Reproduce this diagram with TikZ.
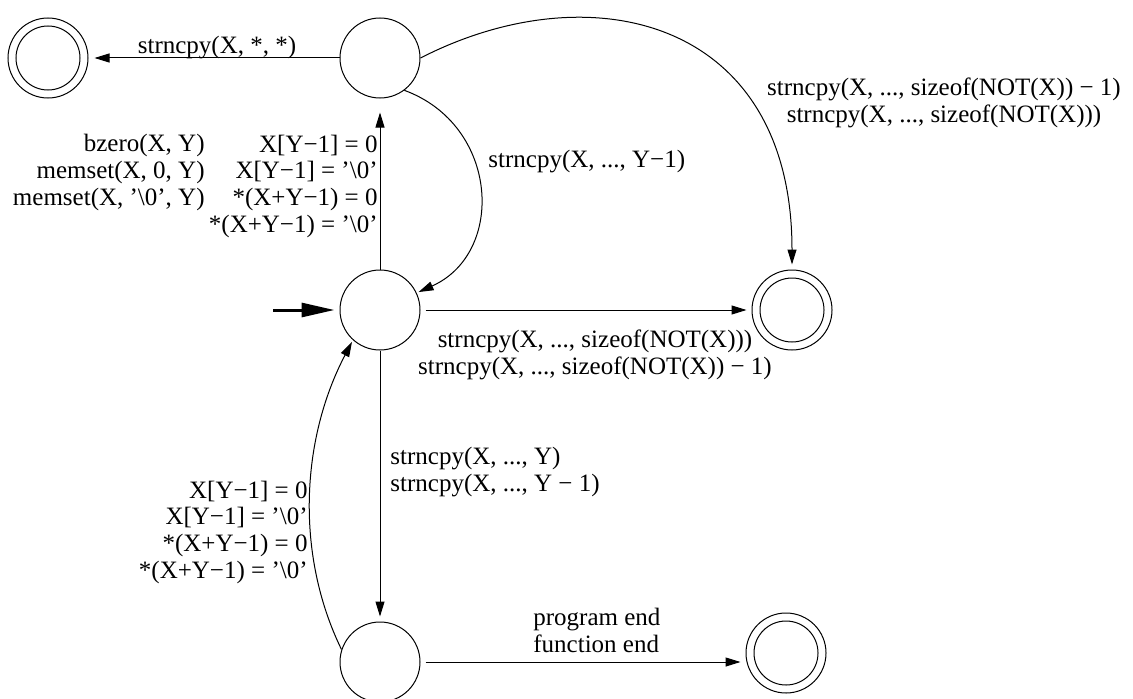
\documentclass[tikz,border=0pt]{standalone}
\usepackage{fontspec}
\setmainfont{Liberation Serif}
\usetikzlibrary{arrows.meta}

\tikzset{
  stnode/.style={circle, draw, line width=0.5pt, minimum size=40pt, inner sep=0pt},
  acc/.style={stnode, path picture={\draw[line width=0.5pt]
      (path picture bounding box.center) circle[radius=16pt];}},
  trans/.style={line width=0.5pt, -{Triangle[length=7.5pt, width=4.5pt]}, shorten >=2.5pt},
  lbl/.style={inner sep=0pt, font=\fontsize{12.5}{13.33}\selectfont}
}

\begin{document}
\begin{tikzpicture}[x=0.5pt, y=0.5pt]
  \useasboundingbox (0,0) rectangle (1133,698);

  % States
  \node[acc] (accA) at (48,640) {};
  \node[stnode] (qT) at (380,640) {};
  \node[stnode] (q0) at (380,388) {};
  \node[stnode] (qB) at (380,36) {};
  \node[acc] (accR) at (792,388) {};
  \node[acc] (accB) at (786,45) {};
  \coordinate (init) at (273,388);

  % Initial arrow
  \draw[line width=1.5pt, -{Triangle[length=16.5pt, width=7pt]}, shorten >=2.5pt]
     (init) -- (q0);

  % Transitions
  \draw[trans, shorten >=7pt] (q0) -- (qT);
  \draw[trans, shorten >=3pt] (qT) -- (accA);
  \draw[trans, shorten >=1pt] (qT.-53) .. controls (499,573) and (506,445) .. (q0.25);
  \draw[trans] (qT.east) .. controls (590,727) and (792,680) .. (accR.north);
  \draw[trans, shorten <=2.5pt] (q0) -- (accR);
  \draw[trans] (q0) -- (qB);
  \draw[trans, shorten >=1pt] (qB.162) .. controls (295,144) and (301,259) .. (q0.228);
  \draw[trans, shorten <=2.5pt] (qB.east) -- (accB.west |- qB.east);

  % Labels (base = last line)
  \node[lbl, anchor=base] (lStar) at (217,645) {strncpy(X, *, *)};
  \node[lbl, anchor=base east, align=right] (lInit) at (205,493)
     {bzero(X, Y)\\memset(X, 0, Y)\\memset(X, ’\textbackslash0’, Y)};
  \node[lbl, anchor=base east, align=right] (lNulA) at (378,466)
     {X[Y−1] = 0\\X[Y−1] = ’\textbackslash0’\\*(X+Y−1) = 0\\*(X+Y−1) = ’\textbackslash0’};
  \node[lbl, anchor=base west] (lYm1) at (488,531) {strncpy(X, ..., Y−1)};
  \node[lbl, anchor=base, align=center] (lSizeT) at (944,576)
     {strncpy(X, ..., sizeof(NOT(X)) − 1)\\strncpy(X, ..., sizeof(NOT(X)))};
  \node[lbl, anchor=base, align=center] (lSizeM) at (595,324)
     {strncpy(X, ..., sizeof(NOT(X)))\\strncpy(X, ..., sizeof(NOT(X)) − 1)};
  \node[lbl, anchor=base west, align=left] (lY) at (390,207)
     {strncpy(X, ..., Y)\\strncpy(X, ..., Y − 1)};
  \node[lbl, anchor=base east, align=right] (lNulB) at (308,120)
     {X[Y−1] = 0\\X[Y−1] = ’\textbackslash0’\\*(X+Y−1) = 0\\*(X+Y−1) = ’\textbackslash0’};
  \node[lbl, anchor=base west, align=left] (lEnd) at (533,46)
     {program end\\function end};
\end{tikzpicture}
\end{document}
